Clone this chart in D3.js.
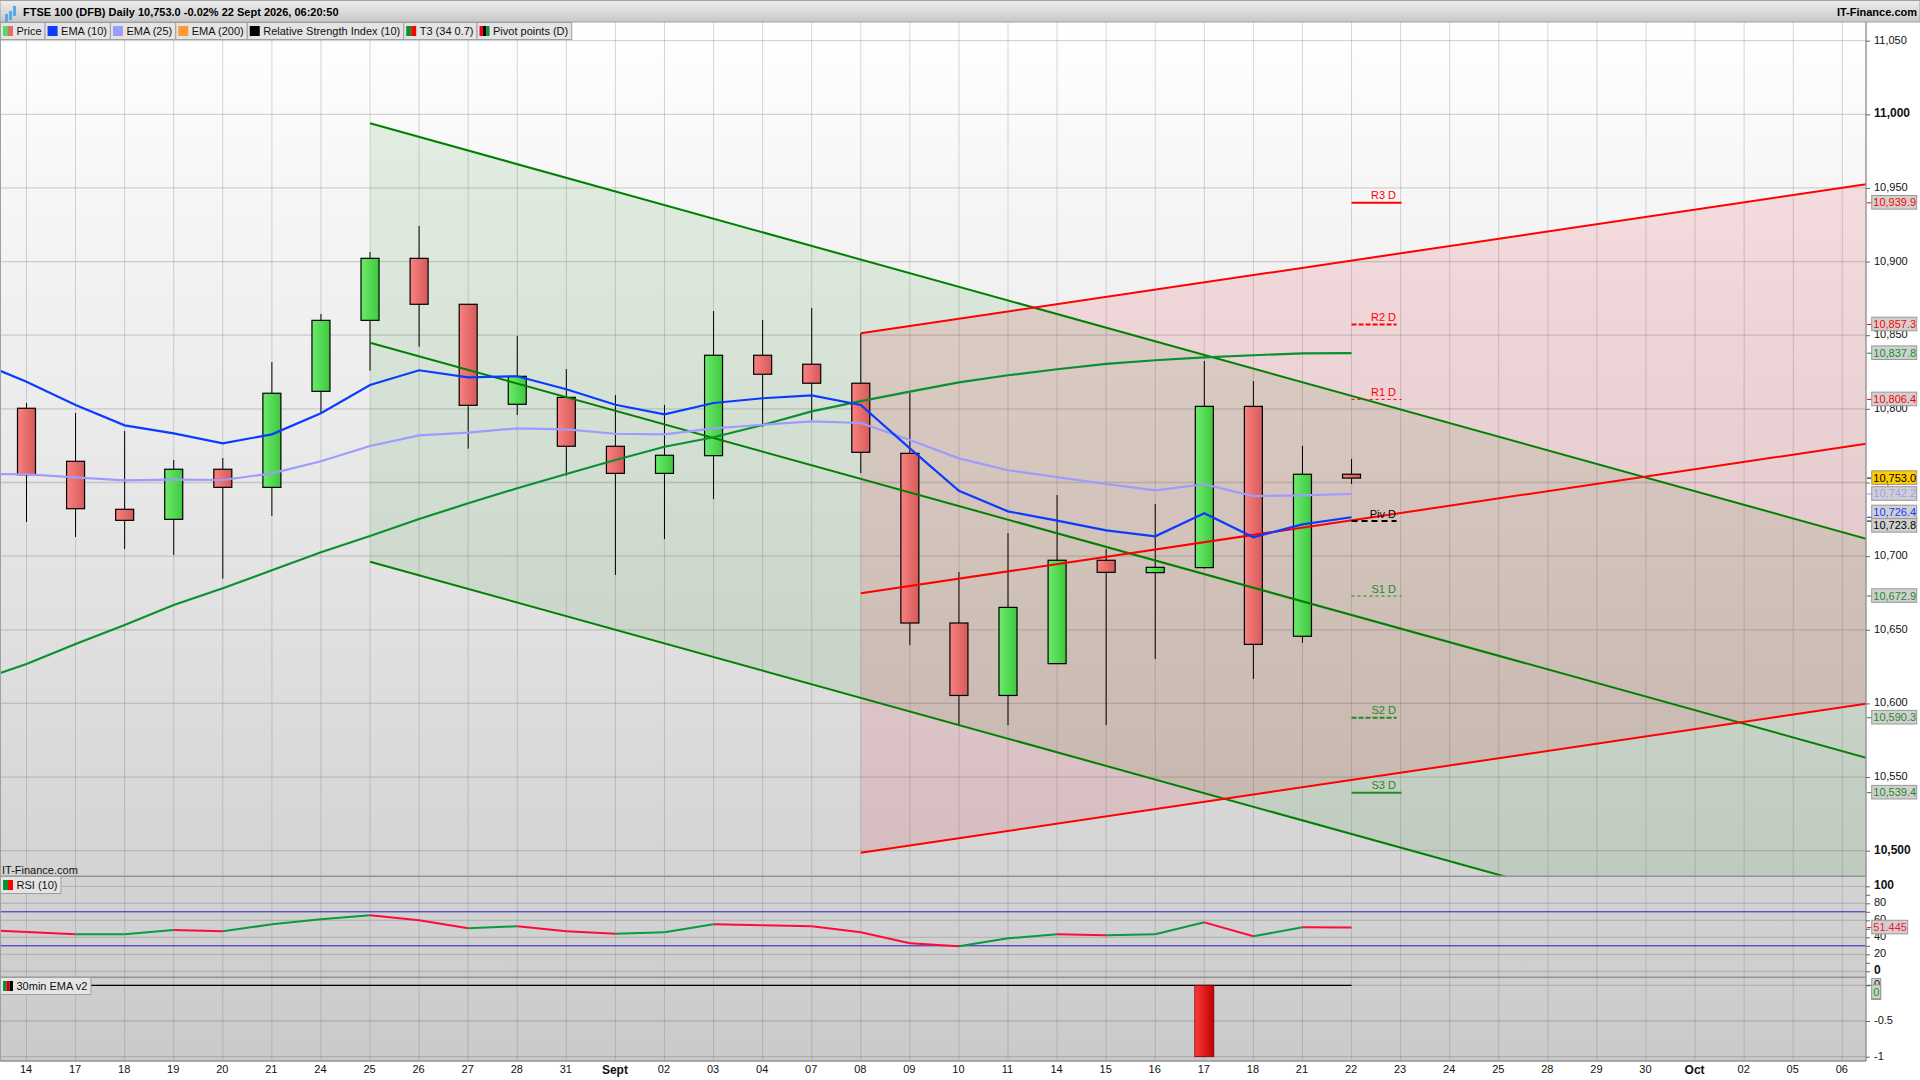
<!DOCTYPE html>
<html>
<head>
<meta charset="utf-8">
<title>FTSE 100 (DFB) Daily</title>
<script src="https://cdn.jsdelivr.net/npm/d3@7/dist/d3.min.js"></script>
<style>
    body { margin: 0; background: #fff; }
    svg { display: block; font-family: "Liberation Sans", Arial, sans-serif; font-size: 11px; }
</style>
</head>
<body>
<div id="grafico"></div>
<script>
// x axis labels, one per trading day
const xLabels = ['14', '17', '18', '19', '20', '21', '24', '25', '26', '27', '28', '31', 'Sept', '02', '03', '04', '07', '08', '09', '10',
    '11', '14', '15', '16', '17', '18', '21', '22', '23', '24', '25', '28', '29', '30', 'Oct', '02', '05', '06'];

// candles, index 0 to 27
const opens = [10800.4, 10764.4, 10731.8, 10725, 10759, 10746.7, 10811.9, 10860.1, 10902.2, 10871, 10803.1, 10807.8, 10774.6, 10756.2,
    10768.2, 10836.4, 10830.3, 10817.4, 10769.8, 10654.6, 10605.4, 10627, 10697.2, 10688.8, 10692.2, 10801.7, 10645.6, 10755.6];
const closes = [10755.3, 10732.2, 10724.3, 10759, 10746.7, 10810.6, 10860.1, 10902.2, 10871, 10802.4, 10822.1, 10774.6, 10756.2, 10768.5,
    10836.4, 10823.5, 10817.4, 10770.5, 10654.6, 10605.4, 10665.2, 10697.2, 10689, 10692.4, 10801.7, 10640.1, 10755.6, 10753];
const highs = [10804, 10797.2, 10785, 10765.3, 10766.6, 10831.8, 10864.4, 10906.5, 10924.2, 10871, 10849.5, 10827, 10809.4, 10802.6,
    10866.4, 10860.3, 10868.5, 10851.3, 10810.8, 10689.2, 10715.7, 10741.5, 10704.8, 10735.4, 10832.5, 10818.9, 10774.8, 10766];
const lows = [10723.2, 10713, 10704.8, 10700.8, 10684.7, 10727.3, 10797, 10826, 10842.2, 10773, 10795.8, 10754.6, 10687.2, 10711.6,
    10738.8, 10787.9, 10792.4, 10756.4, 10639.5, 10585.3, 10585.3, 10627, 10585.3, 10630.2, 10691.5, 10616.6, 10641.2, 10749];

// line series start one day before the first candle (index -1)
const ema10 = [10832.2, 10818.4, 10802.6, 10788.8, 10783.4, 10776.6, 10782.7, 10797, 10816.2, 10826.2, 10821.4, 10822.1, 10813.3, 10802.8,
    10796.3, 10804, 10807.2, 10809.2, 10802.6, 10773.2, 10744.4, 10730.4, 10724.1, 10717.5, 10713.5, 10729.1, 10712.8, 10721.6, 10726.4];
const ema25 = [10755.8, 10755.6, 10753.5, 10751.5, 10751.9, 10751.7, 10756.2, 10764.4, 10774.8, 10782, 10783.8, 10786.8, 10786.1, 10783.1,
    10782.7, 10786.8, 10789.2, 10791.5, 10790.4, 10778.9, 10766.4, 10758.3, 10753.7, 10749, 10744.7, 10748.8, 10740.8, 10741.3, 10742.2];
const ema200 = [10615.2, 10626.8, 10640.3, 10653.2, 10666.8, 10678.2, 10690.4, 10702.6, 10713.7, 10725.2, 10735.9, 10746.1, 10755.8, 10765.3,
    10774.3, 10780.7, 10789, 10798.3, 10805.3, 10811.7, 10818, 10822.8, 10826.9, 10830.5, 10833, 10835, 10836.4, 10837.7, 10837.8];
const rsi = [48.9, 46.2, 43.5, 43.5, 48.6, 47, 55.3, 61.2, 65.9, 60, 50.6, 52.9, 47, 44.3,
    45.9, 55.3, 54.1, 52.9, 45.9, 32.9, 29.4, 38.8, 43.5, 42.4, 43.5, 57.6, 41.2, 51.8, 51.445];
const ema30min = [0, 0, 0, 0, 0, 0, 0, 0, 0, 0, 0, 0, 0, 0, 0, 0, 0, 0, 0, 0, 0, 0, 0, 0, 0, 0, 0, 0, 0];
ema30min[25] = -1; // the 17th

// regression channels: [start value, end value]
const canalVerde = [[10993.9, 10711.8], [10844.9, 10563.1], [10696.2, 10414.4]];
const canalVermelho = [[10851.3, 10952.5], [10674.8, 10776.3], [10498.6, 10599.8]];
const inicioVerde = 7;
const inicioVermelho = 17;
const fimCanal = 37.49;

// pivot points
const pivotNomes = ['R3 D', 'R2 D', 'R1 D', 'Piv D', 'S1 D', 'S2 D', 'S3 D'];
const pivotValores = [10939.9, 10857.3, 10806.4, 10723.8, 10672.9, 10590.3, 10539.4];
const pivotCores = ['#ff0000', '#ff0000', '#ff0000', '#000000', '#1f8a1f', '#1f8a1f', '#1f8a1f'];
const pivotTracos = ['', '5,2', '3,3', '6,4', '3,3', '5,2', ''];
const pivotLarguras = [2, 2, 1, 2, 1, 2, 2];

// boxes on the right axis
const caixaValores = [10939.9, 10857.3, 10837.8, 10806.4, 10753, 10742.2, 10726.4, 10723.8, 10672.9, 10590.3, 10539.4];
const caixaCores = ['#ff0000', '#ff0000', '#0a9030', '#ff0000', '#000000', '#9c9cff', '#0a3cff', '#000000', '#1f8a1f', '#1f8a1f', '#1f8a1f'];

const precoTicks = [10500, 10550, 10600, 10650, 10700, 10750, 10800, 10850, 10900, 10950, 11000, 11050];
const rsiTicks = [0, 10, 20, 30, 40, 50, 60, 70, 80, 90, 100];
const emaTicks = [-1, -0.5, 0];

const legendaNomes = ['Price', 'EMA (10)', 'EMA (25)', 'EMA (200)', 'Relative Strength Index (10)', 'T3 (34 0.7)', 'Pivot points (D)'];
const legendaCores = [['#5cd65c', '#e86a6a'], ['#0a3cff'], ['#9c9cff'], ['#ff9933'], ['#000000'], ['#0a9030', '#ff0000'], ['#ff0000', '#000000', '#0a9030']];

const width = 1920;
const height = 1080;
const eixoX = 1866;

const svg = d3.select('#grafico').append('svg')
    .attr('width', width)
    .attr('height', height);

const defs = svg.append('defs');

function gradiente(id, paradas, vertical) {
    const g = defs.append('linearGradient').attr('id', id);
    if (vertical) {
        g.attr('gradientUnits', 'userSpaceOnUse').attr('x1', 0).attr('x2', 0).attr('y1', vertical[0]).attr('y2', vertical[1]);
    }
    paradas.forEach((cor, i) => {
        g.append('stop').attr('offset', i / (paradas.length - 1)).attr('stop-color', cor);
    });
}

gradiente('fundo', ['#ffffff', '#cacaca'], [22, 1061]);
gradiente('topo', ['#ececec', '#c8c8c8'], [1, 22]);
gradiente('velaVermelha', ['#fb8080', '#d55a5a']);
gradiente('velaVerde', ['#6cea6c', '#3ec83e']);
gradiente('barraVermelha', ['#ff3a3a', '#c00000']);

defs.append('clipPath').attr('id', 'clipPreco')
    .append('rect').attr('x', 0).attr('y', 22).attr('width', eixoX).attr('height', 854);

// scales
const x = d3.scaleLinear().domain([0, 37]).range([26.5, 1842.3]);
const yPreco = d3.scaleLinear().domain([10500, 11000]).range([850.7, 114.3]);
const yRsi = d3.scaleLinear().domain([0, 100]).range([971.3, 886.3]);
const yEma = d3.scaleLinear().domain([-1, 0]).range([1056.7, 985.3]);

svg.append('rect')
    .attr('x', 0).attr('y', 22)
    .attr('width', eixoX).attr('height', 1039)
    .attr('fill', 'url(#fundo)');

// grid
const grade = svg.append('g').attr('stroke', '#6e6e6e').attr('stroke-opacity', 0.28);

grade.selectAll('.vertical')
    .data(xLabels)
    .enter().append('line')
    .attr('x1', (d, i) => x(i)).attr('x2', (d, i) => x(i))
    .attr('y1', 22).attr('y2', 1061);

const horizontais = precoTicks.map(v => yPreco(v))
    .concat(rsiTicks.filter(v => v % 20 === 0).map(v => yRsi(v)))
    .concat(emaTicks.map(v => yEma(v)));

grade.selectAll('.horizontal')
    .data(horizontais)
    .enter().append('line')
    .attr('x1', 0).attr('x2', eixoX)
    .attr('y1', d => d).attr('y2', d => d)
    .attr('stroke-width', 1.3);

const preco = svg.append('g').attr('clip-path', 'url(#clipPreco)');

function desenharCanal(canal, inicio, cor, opacidade, corLinha) {
    preco.append('polygon')
        .attr('points', [
            [x(inicio), yPreco(canal[0][0])],
            [x(fimCanal), yPreco(canal[0][1])],
            [x(fimCanal), yPreco(canal[2][1])],
            [x(inicio), yPreco(canal[2][0])]
        ].join(' '))
        .attr('fill', cor)
        .attr('fill-opacity', opacidade);

    return canal.map(d => ({ inicio: inicio, de: d[0], ate: d[1], cor: corLinha }));
}

const linhasVerdes = desenharCanal(canalVerde, inicioVerde, '#007800', 0.09, '#008000');
const linhasVermelhas = desenharCanal(canalVermelho, inicioVermelho, '#e60014', 0.11, '#ff0000');

// candles
const velas = opens.map((o, i) => ({ i: i, o: o, c: closes[i], h: highs[i], l: lows[i] }));

const velasG = preco.selectAll('.vela')
    .data(velas)
    .enter().append('g')
    .attr('class', 'vela');

velasG.append('line')
    .attr('x1', d => x(d.i)).attr('x2', d => x(d.i))
    .attr('y1', d => yPreco(d.h)).attr('y2', d => yPreco(d.l))
    .attr('stroke', '#000');

velasG.append('rect')
    .attr('x', d => x(d.i) - 9)
    .attr('y', d => yPreco(Math.max(d.o, d.c)))
    .attr('width', 18)
    .attr('height', d => Math.abs(yPreco(d.o) - yPreco(d.c)))
    .attr('fill', d => d.c >= d.o ? 'url(#velaVerde)' : 'url(#velaVermelha)')
    .attr('stroke', '#000')
    .attr('stroke-width', 1.2);

// channel lines
preco.selectAll('.canal')
    .data(linhasVerdes.concat(linhasVermelhas))
    .enter().append('line')
    .attr('x1', d => x(d.inicio)).attr('x2', x(fimCanal))
    .attr('y1', d => yPreco(d.de)).attr('y2', d => yPreco(d.ate))
    .attr('stroke', d => d.cor)
    .attr('stroke-width', 2);

// moving averages
const linhaPreco = d3.line().x((d, i) => x(i - 1)).y(d => yPreco(d));

[[ema200, '#0a9030'], [ema25, '#9c9cff'], [ema10, '#0a3cff']].forEach(([serie, cor]) => {
    preco.append('path')
        .attr('d', linhaPreco(serie))
        .attr('fill', 'none')
        .attr('stroke', cor)
        .attr('stroke-width', 2.2);
});

// pivot levels
const pivots = svg.append('g').selectAll('g')
    .data(pivotNomes)
    .enter().append('g');

pivots.append('line')
    .attr('x1', x(27)).attr('x2', (d, i) => x(27) + (pivotTracos[i] === '5,2' || pivotTracos[i] === '6,4' ? 45 : 50))
    .attr('y1', (d, i) => yPreco(pivotValores[i])).attr('y2', (d, i) => yPreco(pivotValores[i]))
    .attr('stroke', (d, i) => pivotCores[i])
    .attr('stroke-width', (d, i) => pivotLarguras[i])
    .attr('stroke-dasharray', (d, i) => pivotTracos[i] || null);

pivots.append('text')
    .attr('x', 1396)
    .attr('y', (d, i) => yPreco(pivotValores[i]) - 3.5)
    .attr('text-anchor', 'end')
    .attr('fill', (d, i) => pivotCores[i])
    .text(d => d);

// RSI pane
svg.selectAll('.nivelRsi')
    .data([30, 70])
    .enter().append('line')
    .attr('x1', 0).attr('x2', eixoX)
    .attr('y1', d => yRsi(d)).attr('y2', d => yRsi(d))
    .attr('stroke', '#2222bb')
    .attr('stroke-width', 1);

svg.selectAll('.rsi')
    .data(rsi.slice(1))
    .enter().append('line')
    .attr('x1', (d, i) => x(i - 1)).attr('x2', (d, i) => x(i))
    .attr('y1', (d, i) => yRsi(rsi[i])).attr('y2', d => yRsi(d))
    .attr('stroke', (d, i) => d >= rsi[i] ? '#0a9a40' : '#ff0a3c')
    .attr('stroke-width', 2);

// 30min EMA pane
svg.append('path')
    .attr('d', d3.line().x((d, i) => x(i - 1)).y(d => yEma(Math.max(d, 0)))(ema30min))
    .attr('fill', 'none')
    .attr('stroke', '#000')
    .attr('stroke-width', 1.3);

svg.selectAll('.barra')
    .data(ema30min)
    .enter().filter(d => d < 0).append('rect')
    .attr('x', (d, i) => x(ema30min.indexOf(d) - 1) - 9.5)
    .attr('y', yEma(0))
    .attr('width', 19)
    .attr('height', d => yEma(d) - yEma(0))
    .attr('fill', 'url(#barraVermelha)')
    .attr('stroke', '#7a0000')
    .attr('stroke-width', 0.8);

// pane borders
[876.3, 977.3, 1061].forEach(y => {
    svg.append('line')
        .attr('x1', 0).attr('x2', eixoX)
        .attr('y1', y).attr('y2', y)
        .attr('stroke', '#939393')
        .attr('stroke-width', 1.4);
});

svg.append('line')
    .attr('x1', 0.5).attr('x2', 0.5).attr('y1', 22).attr('y2', 1061)
    .attr('stroke', '#a0a0a0');

svg.append('rect')
    .attr('x', eixoX).attr('y', 22)
    .attr('width', width - eixoX).attr('height', height - 22)
    .attr('fill', '#fff');

svg.append('line')
    .attr('x1', eixoX).attr('x2', eixoX).attr('y1', 22).attr('y2', 1061)
    .attr('stroke', '#939393')
    .attr('stroke-width', 1.4);

// tall box behind the zero label of the last pane
svg.append('rect')
    .attr('x', eixoX + 5.7).attr('y', 978.5)
    .attr('width', 9).attr('height', 21)
    .attr('fill', '#d0d0d0')
    .attr('stroke', '#999');

// axes
function estilizarEixo(g) {
    g.select('.domain').remove();
    g.selectAll('.tick line').attr('stroke', '#666');
    g.selectAll('.tick text').attr('fill', '#111').attr('dy', '0.22em').style('font-size', '11px')
        .style('font-family', '"Liberation Sans", Arial, sans-serif');
}

svg.append('g')
    .attr('transform', `translate(${eixoX},0)`)
    .call(d3.axisRight(yPreco).tickValues(precoTicks).tickSize(4).tickPadding(4).tickFormat(d3.format(',')))
    .call(estilizarEixo)
    .call(g => g.selectAll('.tick text').style('font-weight', d => d % 500 === 0 ? 'bold' : null)
        .style('font-size', d => d % 500 === 0 ? '12px' : '11px'));

svg.append('g')
    .attr('transform', `translate(${eixoX},0)`)
    .call(d3.axisRight(yRsi).tickValues(rsiTicks).tickSize(4).tickPadding(4).tickFormat(d => d % 20 === 0 ? d : ''))
    .call(estilizarEixo)
    .call(g => g.selectAll('.tick text').style('font-weight', d => d % 100 === 0 ? 'bold' : null)
        .style('font-size', d => d % 100 === 0 ? '12px' : '11px'));

svg.append('g')
    .attr('transform', `translate(${eixoX},0)`)
    .call(d3.axisRight(yEma).tickValues(emaTicks).tickSize(4).tickPadding(4).tickFormat(d => d))
    .call(estilizarEixo);

svg.append('g')
    .attr('transform', 'translate(-1,1060)')
    .call(d3.axisBottom(x).tickValues(d3.range(xLabels.length)).tickSize(0).tickPadding(5).tickFormat(i => xLabels[i]))
    .call(g => {
        g.select('.domain').remove();
        g.selectAll('.tick text').attr('fill', '#111').style('font-size', i => isNaN(xLabels[i]) ? '12px' : '11px')
            .style('font-weight', i => isNaN(xLabels[i]) ? 'bold' : null);
    });

// value boxes, spread apart when they would overlap
const caixas = caixaValores.map((v, i) => ({ v: v, y: yPreco(v), cy: yPreco(v), cor: caixaCores[i], texto: d3.format(',.1f')(v), largura: 45 }));
for (let i = 1; i < caixas.length; i++) {
    const falta = 13.4 - (caixas[i].cy - caixas[i - 1].cy);
    if (falta > 0) {
        caixas[i - 1].cy -= falta / 2;
        caixas[i].cy += falta / 2;
    }
}
caixas.push({ v: 51.445, y: yRsi(51.445), cy: yRsi(51.445), cor: '#ff1040', texto: '51.445', largura: 36 });
caixas.push({ v: 0, y: yEma(0), cy: yEma(0) + 7, cor: '#0a9a20', texto: '0', largura: 9 });

const caixasG = svg.selectAll('.caixa')
    .data(caixas)
    .enter().append('g');

caixasG.append('line')
    .attr('x1', eixoX + 1).attr('x2', eixoX + 6)
    .attr('y1', d => d.y).attr('y2', d => d.y)
    .attr('stroke', d => d.cor);

caixasG.append('rect')
    .attr('x', eixoX + 5.7)
    .attr('y', d => d.cy - 7.3)
    .attr('width', d => d.largura)
    .attr('height', 13.6)
    .attr('fill', d => d.v === 10753 ? '#ffcc00' : '#d0d0d0')
    .attr('stroke', '#999');

caixasG.append('text')
    .attr('x', eixoX + 7.3)
    .attr('y', d => d.cy + 3.5)
    .attr('fill', d => d.cor)
    .text(d => d.texto);

// header
svg.append('rect')
    .attr('x', 0).attr('y', 0.5)
    .attr('width', width).attr('height', 21.5)
    .attr('fill', 'url(#topo)')
    .attr('stroke', '#a0a0a0');

svg.selectAll('.icone')
    .data([[5, 14, 10], [9, 11, 9], [13, 6, 10]])
    .enter().append('rect')
    .attr('x', d => d[0]).attr('y', d => d[1])
    .attr('width', 3).attr('height', d => d[2])
    .attr('fill', '#5aa8e8');

svg.append('text')
    .attr('x', 23).attr('y', 16)
    .style('font-weight', 'bold')
    .text('FTSE 100 (DFB) Daily 10,753.0 -0.02% 22 Sept 2026, 06:20:50');

svg.append('text')
    .attr('x', 1917).attr('y', 16)
    .attr('text-anchor', 'end')
    .style('font-weight', 'bold')
    .text('IT-Finance.com');

// legends
function legenda(xIni, yIni, nome, cores) {
    const g = svg.append('g');
    const fundo = g.append('rect')
        .attr('x', xIni + 0.5).attr('y', yIni + 0.5)
        .attr('height', 17)
        .attr('fill', '#e4e4e4')
        .attr('stroke', '#a0a0a0');

    cores.forEach((cor, i) => {
        g.append('rect')
            .attr('x', xIni + 3 + i * 10 / cores.length).attr('y', yIni + 4)
            .attr('width', 10 / cores.length).attr('height', 10)
            .attr('fill', cor);
    });

    const texto = g.append('text')
        .attr('x', xIni + 16.5).attr('y', yIni + 13)
        .attr('fill', '#111')
        .text(nome);

    const largura = texto.node().getComputedTextLength() + 19.5;
    fundo.attr('width', largura);
    return xIni + largura;
}

let xLegenda = 0;
legendaNomes.forEach((nome, i) => {
    xLegenda = legenda(xLegenda, 22, nome, legendaCores[i]);
});

legenda(0, 876, 'RSI (10)', ['#0a9030', '#ff0000']);
legenda(0, 977, '30min EMA v2', ['#0a9030', '#cc0000', '#000000']);

svg.append('text')
    .attr('x', 2).attr('y', 874)
    .attr('fill', '#111')
    .text('IT-Finance.com');
</script>
</body>
</html>
